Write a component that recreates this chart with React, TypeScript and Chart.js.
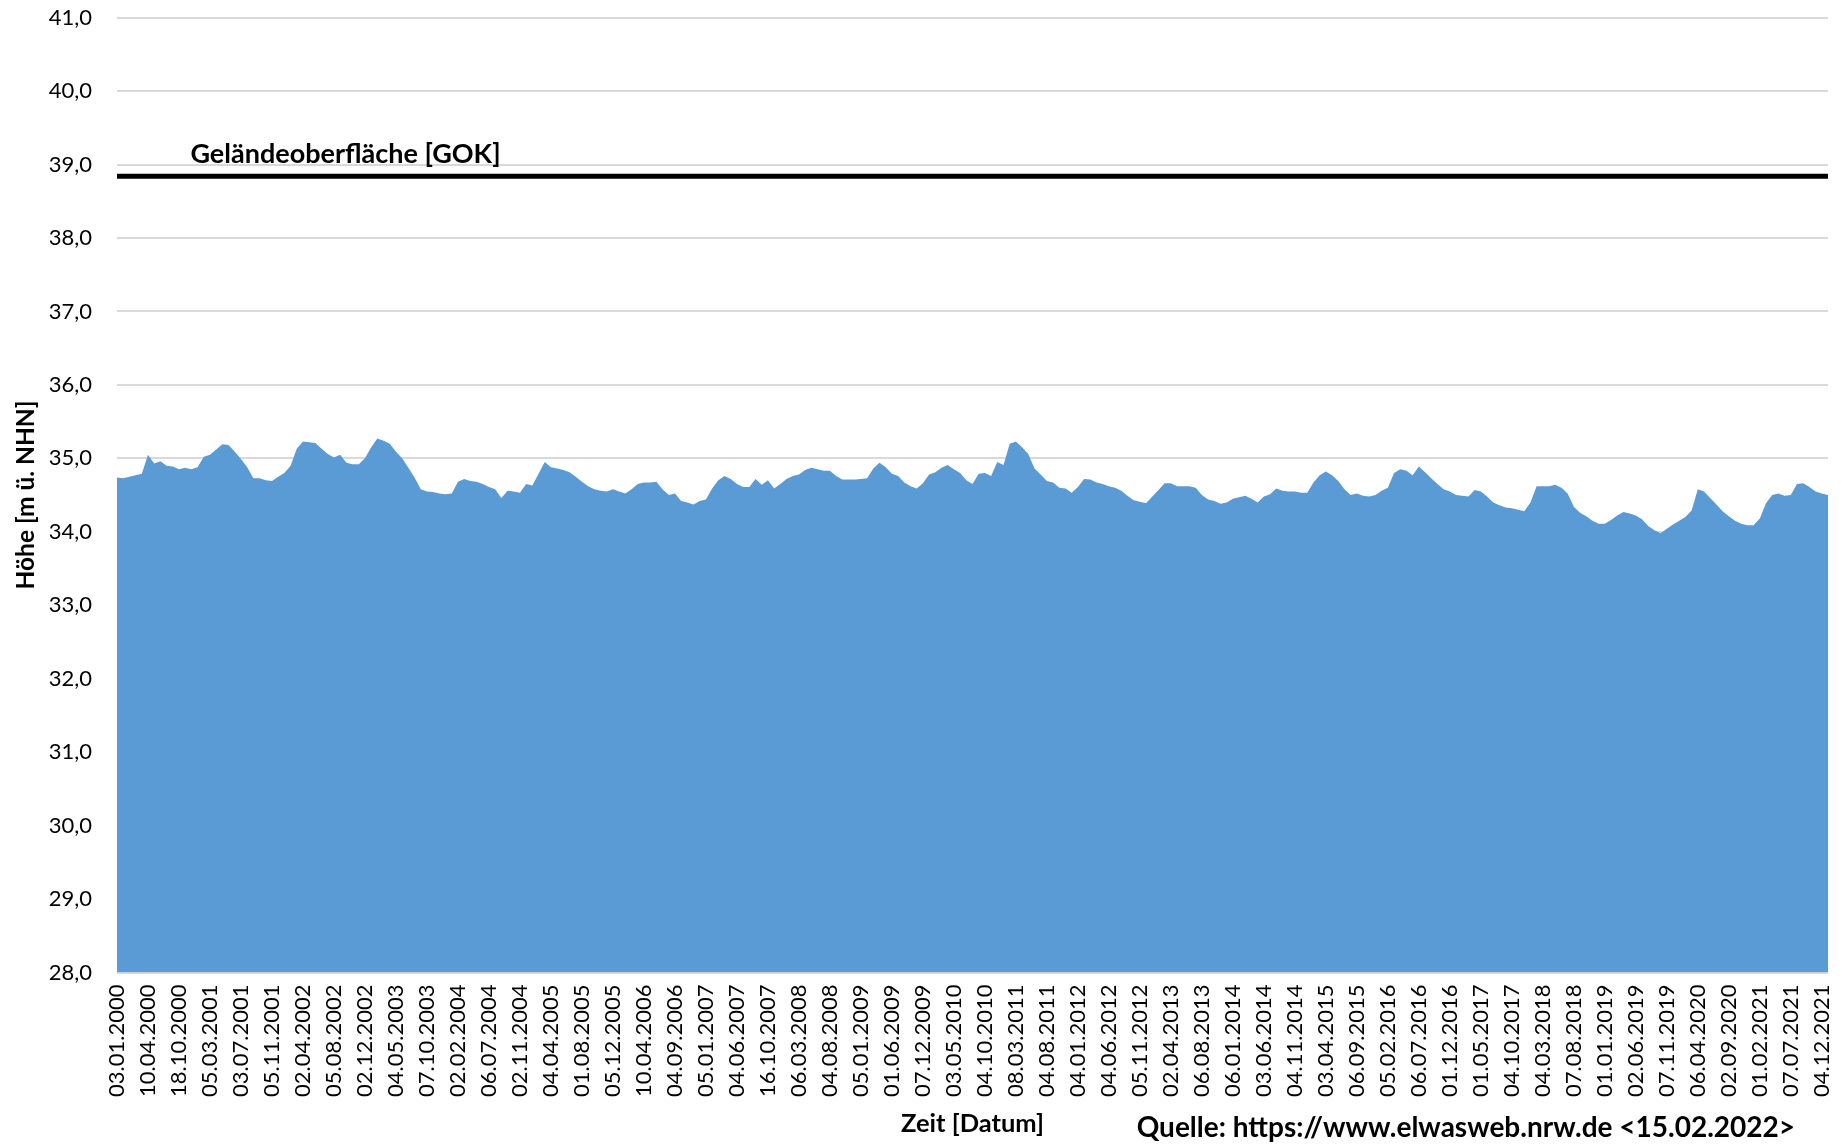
import { useEffect, useRef } from "react";
import { Chart, registerables } from "chart.js";

Chart.register(...registerables);

// x-axis tick labels (every 5th measurement date)
const TICK_LABELS = [
  "03.01.2000", "10.04.2000", "18.10.2000", "05.03.2001", "03.07.2001", "05.11.2001",
  "02.04.2002", "05.08.2002", "02.12.2002", "04.05.2003", "07.10.2003", "02.02.2004",
  "06.07.2004", "02.11.2004", "04.04.2005", "01.08.2005", "05.12.2005", "10.04.2006",
  "04.09.2006", "05.01.2007", "04.06.2007", "16.10.2007", "06.03.2008", "04.08.2008",
  "05.01.2009", "01.06.2009", "07.12.2009", "03.05.2010", "04.10.2010", "08.03.2011",
  "04.08.2011", "04.01.2012", "04.06.2012", "05.11.2012", "02.04.2013", "06.08.2013",
  "06.01.2014", "03.06.2014", "04.11.2014", "03.04.2015", "06.09.2015", "05.02.2016",
  "06.07.2016", "01.12.2016", "01.05.2017", "04.10.2017", "04.03.2018", "07.08.2018",
  "01.01.2019", "02.06.2019", "07.11.2019", "06.04.2020", "02.09.2020", "01.02.2021",
  "07.07.2021", "04.12.2021",
];
const POINTS_PER_TICK = 5;

// groundwater level [m ü. NHN]
const LEVEL_2000_2002 = [
  34.74, 34.73, 34.75, 34.77, 34.79, 35.05, 34.93, 34.96, 34.9, 34.89,
  34.85, 34.87, 34.85, 34.88, 35.02, 35.05, 35.12, 35.19, 35.18, 35.09,
  34.99, 34.88, 34.73, 34.73, 34.7, 34.69, 34.75, 34.8, 34.9, 35.13,
  35.23, 35.22, 35.21, 35.13, 35.06, 35.01,
];
const LEVEL_2002_2004 = [
  35.05, 34.94, 34.92, 34.92, 35.0, 35.15, 35.27, 35.24, 35.2, 35.09,
  35.0, 34.87, 34.74, 34.58, 34.55, 34.54, 34.52, 34.51, 34.52, 34.68,
  34.72, 34.69, 34.68, 34.65, 34.61, 34.58, 34.46, 34.56, 34.55, 34.53,
  34.65, 34.63, 34.79, 34.95,
];
const LEVEL_2005_2007 = [
  34.88, 34.86, 34.84, 34.81, 34.75, 34.68, 34.62, 34.58, 34.56, 34.55,
  34.58, 34.55, 34.52, 34.58, 34.65, 34.67, 34.67, 34.68, 34.58, 34.5,
  34.52, 34.42, 34.4, 34.37, 34.42, 34.44, 34.59, 34.7, 34.76, 34.72,
  34.65, 34.61, 34.61,
];
const LEVEL_2007_2010 = [
  34.72, 34.64, 34.7, 34.59, 34.65, 34.72, 34.76, 34.78, 34.84, 34.87,
  34.85, 34.83, 34.83, 34.76, 34.71, 34.71, 34.71, 34.72, 34.73, 34.86,
  34.94, 34.88, 34.79, 34.76, 34.67, 34.62, 34.59, 34.66, 34.78, 34.81,
  34.87, 34.91, 34.85, 34.8, 34.7, 34.65, 34.79,
];
const LEVEL_2010_2013 = [
  34.8, 34.76, 34.95, 34.91, 35.2, 35.23, 35.15, 35.06, 34.86, 34.78,
  34.69, 34.67, 34.6, 34.59, 34.53, 34.61, 34.72, 34.71, 34.67, 34.65,
  34.62, 34.6, 34.56, 34.49, 34.43, 34.41, 34.39, 34.48, 34.57, 34.66,
  34.66, 34.62, 34.62, 34.62,
];
const LEVEL_2013_2016 = [
  34.6, 34.5, 34.44, 34.42, 34.38, 34.4, 34.45, 34.47, 34.49, 34.45,
  34.4, 34.48, 34.51, 34.59, 34.56, 34.55, 34.55, 34.53, 34.53, 34.67,
  34.77, 34.82, 34.77, 34.69, 34.58, 34.5, 34.52, 34.49, 34.48, 34.5,
  34.56, 34.6, 34.8, 34.85, 34.83,
];
const LEVEL_2016_2019 = [
  34.77, 34.89, 34.81, 34.73, 34.65, 34.58, 34.55, 34.5, 34.49, 34.48,
  34.57, 34.55, 34.48, 34.4, 34.36, 34.33, 34.32, 34.3, 34.28, 34.4,
  34.62, 34.62, 34.62, 34.64, 34.6, 34.52, 34.34, 34.26, 34.21, 34.15,
  34.11, 34.11, 34.16, 34.22,
];
const LEVEL_2019_2021 = [
  34.27, 34.25, 34.22, 34.17, 34.08, 34.02, 33.98, 34.04, 34.1, 34.15,
  34.2, 34.29, 34.58, 34.55, 34.46, 34.37, 34.28, 34.21, 34.15, 34.11,
  34.09, 34.09, 34.18, 34.39, 34.5, 34.52, 34.49, 34.5, 34.65, 34.66,
  34.61, 34.55, 34.52, 34.5,
];

const LEVELS = [
  ...LEVEL_2000_2002, ...LEVEL_2002_2004, ...LEVEL_2005_2007, ...LEVEL_2007_2010,
  ...LEVEL_2010_2013, ...LEVEL_2013_2016, ...LEVEL_2016_2019, ...LEVEL_2019_2021,
];

const GOK_LEVEL = 38.84;
const GOK_LABEL = "Geländeoberfläche [GOK]";
const Y_MIN = 28;
const Y_MAX = 41;
const Y_STEP = 1;
const Y_TITLE = "Höhe [m ü. NHN]";
const X_TITLE = "Zeit [Datum]";
const SOURCE_TEXT = "Quelle: https://www.elwasweb.nrw.de <15.02.2022>";

const CATEGORIES = LEVELS.map((_, i) =>
  i % POINTS_PER_TICK === 0 ? TICK_LABELS[i / POINTS_PER_TICK] ?? "" : ""
);

const FONT = "Lato";
const W = 1842;
const H = 1145;

const textPlugin = {
  id: "extraTexts",
  afterDatasetsDraw(chart: any) {
    const { ctx, scales } = chart;
    ctx.save();
    ctx.fillStyle = "#000";
    ctx.font = `bold 27px ${FONT}`;
    ctx.textAlign = "left";
    ctx.textBaseline = "alphabetic";
    const gx = scales.x.getPixelForValue(12) - 1;
    const gy = scales.y.getPixelForValue(GOK_LEVEL) - 13;
    ctx.fillText(GOK_LABEL, gx, gy);
    ctx.textAlign = "right";
    ctx.font = `bold 28px ${FONT}`;
    ctx.fillText(SOURCE_TEXT, chart.width - 47, chart.height - 8);
    ctx.restore();
  },
};

export default function App() {
  const ref = useRef<HTMLCanvasElement | null>(null);

  useEffect(() => {
    if (!ref.current) return;
    const chart = new Chart(ref.current, {
      type: "line",
      data: {
        labels: CATEGORIES,
        datasets: [
          {
            label: GOK_LABEL,
            data: CATEGORIES.map(() => GOK_LEVEL),
            borderColor: "#000000",
            borderWidth: 5,
            pointRadius: 0,
            fill: false,
            borderCapStyle: "butt",
            order: 0,
          },
          {
            label: "Grundwasserstand",
            data: LEVELS,
            borderColor: "#5b9bd5",
            backgroundColor: "#5b9bd5",
            borderWidth: 0,
            pointRadius: 0,
            tension: 0,
            fill: "start",
            order: 1,
          },
        ],
      },
      options: {
        responsive: false,
        animation: false,
        events: [],
        layout: { padding: { top: 17.6, right: 14, left: 0, bottom: 0 } },
        plugins: {
          legend: { display: false },
          tooltip: { enabled: false },
        },
        scales: {
          x: {
            type: "category",
            offset: false,
            grid: { display: false, drawTicks: false },
            border: { display: false },
            ticks: {
              autoSkip: false,
              maxRotation: 90,
              minRotation: 90,
              padding: 12,
              color: "#000",
              font: { family: FONT, size: 22 },
            },
            title: {
              display: true,
              text: X_TITLE,
              color: "#000",
              font: { family: FONT, size: 25.5, weight: "bold" },
              padding: { top: 0, bottom: 6 },
            },
            afterFit: (scale: any) => {
              scale.height = 172.5;
              scale.paddingLeft = 0;
              scale.paddingRight = 0;
            },
          },
          y: {
            min: Y_MIN,
            max: Y_MAX,
            grid: { color: "#d9d9d9", lineWidth: 2, drawTicks: false },
            border: { display: false },
            ticks: {
              stepSize: Y_STEP,
              padding: 25,
              color: "#000",
              font: { family: FONT, size: 22 },
              callback: (v: any) => Number(v).toFixed(1).replace(".", ","),
            },
            title: {
              display: true,
              text: Y_TITLE,
              color: "#000",
              font: { family: FONT, size: 24.5, weight: "bold" },
              padding: { top: 11, bottom: 0 },
            },
            afterFit: (scale: any) => {
              scale.width = 117;
              scale.paddingTop = 0;
              scale.paddingBottom = 0;
            },
          },
        },
      },
      plugins: [textPlugin],
    });
    return () => chart.destroy();
  }, []);

  return (
    <div style={{ position: "fixed", left: 0, top: 0, width: W, height: H, background: "#fff" }}>
      <canvas ref={ref} width={W} height={H} />
    </div>
  );
}
